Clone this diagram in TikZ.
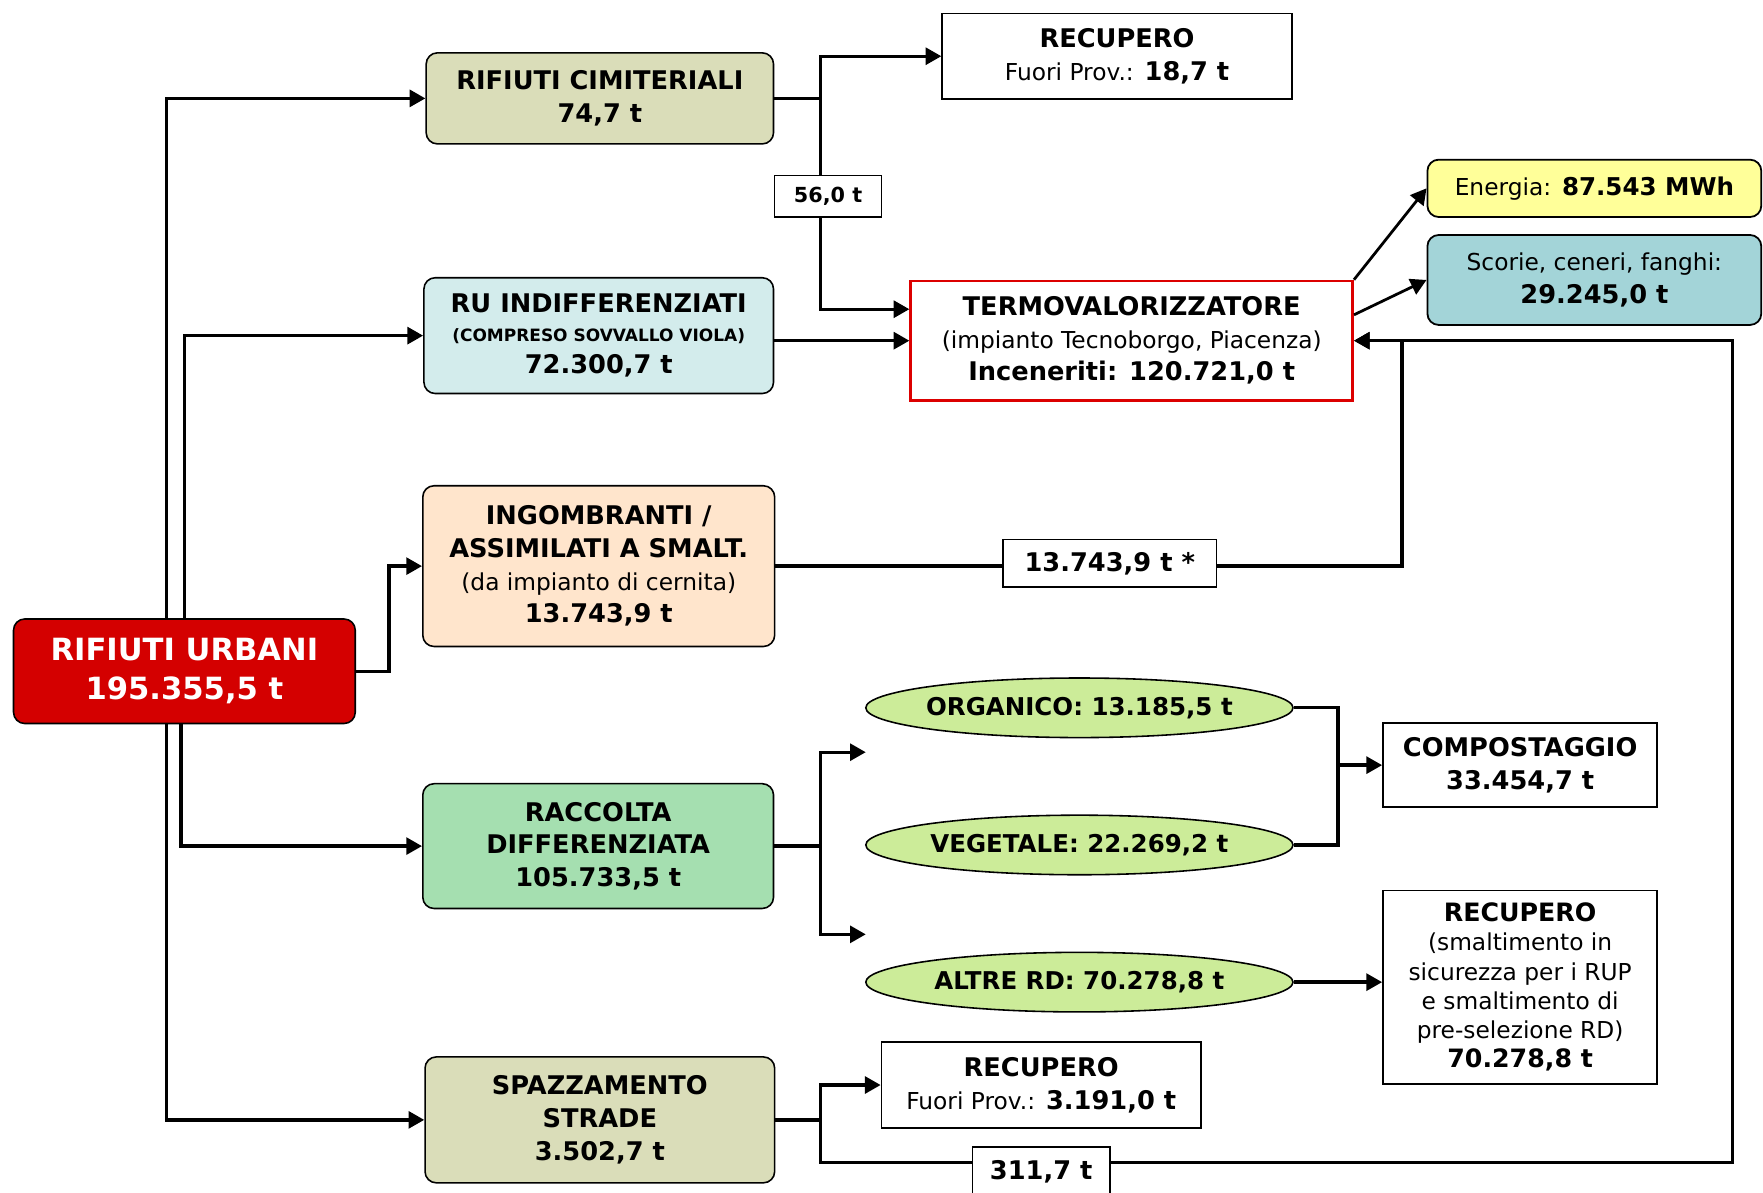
\documentclass[tikz,border=0pt]{standalone}
\usepackage{fontspec}
\setmainfont{DejaVu Sans}
\usetikzlibrary{arrows.meta,shapes.geometric}
\definecolor{urbanred}{RGB}{212,0,0}
\definecolor{termored}{RGB}{220,0,0}
\definecolor{olivebg}{RGB}{218,221,185}
\definecolor{cyanbg}{RGB}{211,236,236}
\definecolor{peachbg}{RGB}{255,229,204}
\definecolor{greenbg}{RGB}{165,223,176}
\definecolor{yellowbg}{RGB}{255,255,153}
\definecolor{tealbg}{RGB}{163,212,216}
\definecolor{limebg}{RGB}{204,236,153}
\newcommand{\reg}{\mdseries\fontsize{11.8}{16.5}\selectfont}
\tikzset{
  wastebox/.style={rectangle, rounded corners=2mm, draw=black, line width=0.8pt,
                   align=center, inner sep=0pt,
                   font=\bfseries\fontsize{13}{16.5}\selectfont},
  destbox/.style={rectangle, draw=black, line width=0.9pt, fill=white,
                  align=center, inner sep=0pt, font=\fontsize{13}{16.5}\selectfont},
  fraction/.style={ellipse, draw=black, line width=0.8pt, fill=limebg,
                   inner xsep=-1.5cm, inner ysep=0pt, minimum width=7.6cm, minimum height=1.06cm,
                   font=\bfseries\fontsize{12.4}{16}\selectfont},
  qtylbl/.style={rectangle, draw=black, line width=0.8pt, fill=white,
                 inner sep=0pt, font=\bfseries\fontsize{13}{16}\selectfont},
  flowline/.style={line width=1.7pt},
  flow/.style={flowline, -{Triangle[length=2.8mm,width=3mm]}},
}
\begin{document}
\begin{tikzpicture}[x=0.02cm, y=-0.02cm]
  \useasboundingbox (0,0) rectangle (1568,1061);
  % sources
  \node[wastebox, fill=urbanred, text=white, minimum width=6.08cm, minimum height=1.86cm,
        font=\bfseries\fontsize{15.5}{19.5}\selectfont] (ru) at (164,597) {RIFIUTI URBANI\\195.355,5 t};
  \node[wastebox, fill=olivebg, minimum width=6.18cm, minimum height=1.62cm] (cim) at (533.5,87.5) {RIFIUTI CIMITERIALI\\74,7 t};
  \node[wastebox, fill=cyanbg, minimum width=6.22cm, minimum height=2.06cm] (indiff) at (532.5,298.5)
        {RU INDIFFERENZIATI\\[-2pt]{\fontsize{8.6}{11}\selectfont (COMPRESO SOVVALLO VIOLA)}\\72.300,7 t};
  \node[wastebox, fill=peachbg, minimum width=6.26cm, minimum height=2.86cm] (ingo) at (532.5,503.5)
        {INGOMBRANTI /\\ASSIMILATI A SMALT.\\{\reg (da impianto di cernita)}\\13.743,9 t};
  \node[wastebox, fill=greenbg, minimum width=6.24cm, minimum height=2.22cm] (rd) at (532,752.5) {RACCOLTA\\DIFFERENZIATA\\105.733,5 t};
  \node[wastebox, fill=olivebg, minimum width=6.22cm, minimum height=2.24cm] (spaz) at (533.5,996) {SPAZZAMENTO\\STRADE\\3.502,7 t};
  % destinations
  \node[destbox, minimum width=6.22cm, minimum height=1.52cm] (rec1) at (993.5,50) {\textbf{RECUPERO}\\{\reg Fuori Prov.:} \textbf{18,7 t}};
  \node[destbox, draw=termored, line width=1.4pt, minimum width=7.86cm, minimum height=2.12cm] (termo) at (1006.5,303)
        {\textbf{TERMOVALORIZZATORE}\\{\reg (impianto Tecnoborgo, Piacenza)}\\\textbf{Inceneriti: 120.721,0 t}};
  \node[destbox, rounded corners=2mm, fill=yellowbg, minimum width=5.94cm, minimum height=1.02cm] (energia) at (1418,167.5)
        {{\reg Energia:} \textbf{\fontsize{12.4}{16}\selectfont 87.543 MWh}};
  \node[destbox, rounded corners=2mm, fill=tealbg, minimum width=5.94cm, minimum height=1.6cm] (scorie) at (1418,249)
        {{\reg Scorie, ceneri, fanghi:}\\\textbf{29.245,0 t}};
  \node[fraction] (org) at (960,629.5) {ORGANICO: 13.185,5 t};
  \node[fraction] (veg) at (960,751.5) {VEGETALE: 22.269,2 t};
  \node[fraction] (altre) at (960,873.5) {ALTRE RD: 70.278,8 t};
  \node[destbox, minimum width=4.88cm, minimum height=1.5cm] (comp) at (1352,680.5) {\textbf{COMPOSTAGGIO}\\\textbf{33.454,7 t}};
  \node[destbox, minimum width=4.88cm, minimum height=3.44cm, font=\fontsize{11.8}{14.8}\selectfont] (rec2) at (1352,878)
        {\textbf{\fontsize{12.8}{14.8}\selectfont RECUPERO}\\(smaltimento in\\sicurezza per i RUP\\e smaltimento di\\pre-selezione RD)\\\textbf{\fontsize{12.8}{14.8}\selectfont 70.278,8 t}};
  \node[destbox, minimum width=5.68cm, minimum height=1.52cm] (rec3) at (926,965) {\textbf{RECUPERO}\\{\reg Fuori Prov.:} \textbf{3.191,0 t}};
  % branch points
  \coordinate (trunk) at (148,0);
  \coordinate (upline) at (164,0);
  \coordinate (dnline) at (161,0);
  \coordinate (ingoline) at (346,0);
  \coordinate (split) at (730,0);
  \coordinate (compjoin) at (1190,0);
  \coordinate (ingoup) at (1247,0);
  \coordinate (backlow) at (1541,1034);
  \coordinate (rdup) at (770,669);
  \coordinate (rddown) at (770,831);
  \coordinate (termoup) at ([yshift=0.56cm]termo.west);
  % flows from rifiuti urbani
  \draw[flow] (ru.north -| trunk) |- (cim.west);
  \draw[flow] (ru.south -| trunk) |- (spaz.west);
  \draw[flow] (ru.north -| upline) |- (indiff.west);
  \draw[flow] (ru.south -| dnline) |- (rd.west);
  \draw[flow] (ru.east) -- (ru.east -| ingoline) |- (ingo.west);
  % cimiteriali
  \draw[flowline] (cim.east) -- (cim.east -| split);
  \draw[flow] (cim.east -| split) |- (rec1.west);
  \draw[flow] (cim.east -| split) |- (termoup);
  % indifferenziati and ingombranti
  \draw[flow] (termo.west -| indiff.east) -- (termo.west);
  \draw[flow] (ingo.east) -| (termo.east -| ingoup) -- (termo.east);
  % termovalorizzatore outputs
  \draw[flow, line width=1.4pt] (termo.north east) -- (energia.west);
  \draw[flow, line width=1.4pt] ([yshift=0.46cm]termo.east) -- (scorie.west);
  % raccolta differenziata
  \draw[flowline] (rd.east) -- (rd.east -| split);
  \draw[flow] (rd.east -| split) |- (rdup);
  \draw[flow] (rd.east -| split) |- (rddown);
  \draw[flowline] (org.east) -| (veg.east -| compjoin) -- (veg.east);
  \draw[flow] (comp.west -| compjoin) -- (comp.west);
  \draw[flow] (altre.east) -- (altre.east -| rec2.west);
  % spazzamento
  \draw[flowline] (spaz.east) -- (spaz.east -| split);
  \draw[flow] (spaz.east -| split) |- (rec3.west);
  \draw[flow] (spaz.east -| split) |- (backlow) |- (termo.east);
  % quantities on the lines
  \node[qtylbl, minimum width=1.9cm, minimum height=0.74cm, font=\bfseries\fontsize{10.5}{12}\selectfont] (q56) at (736.5,174.5) {56,0 t};
  \node[qtylbl, minimum width=3.8cm, minimum height=0.84cm] (q137) at (987,501) {13.743,9 t *};
  \node[qtylbl, minimum width=2.44cm, minimum height=0.88cm] (q311) at (926,1042) {311,7 t};
\end{tikzpicture}
\end{document}
